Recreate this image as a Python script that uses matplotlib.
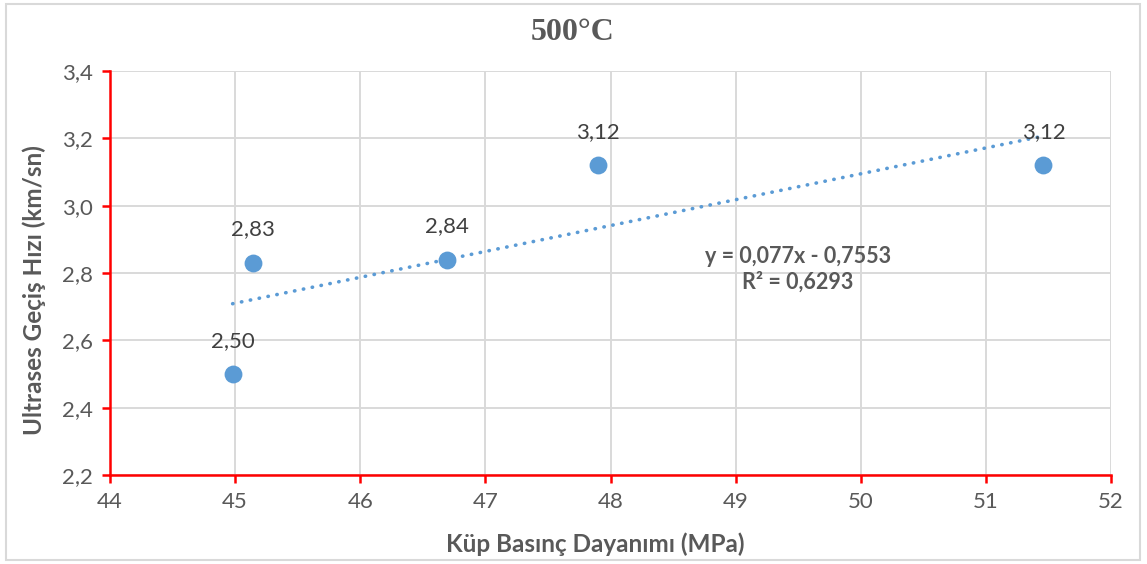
import numpy as np
import matplotlib
matplotlib.use("Agg")
import matplotlib.pyplot as plt
from matplotlib.patches import Rectangle

# 500°C - kup basinc dayanimi vs ultrases gecis hizi
strength = [44.98, 45.14, 46.69, 47.90, 51.46]
velocity = [2.50, 2.83, 2.84, 3.12, 3.12]
labels = ["2,50", "2,83", "2,84", "3,12", "3,12"]

x_ticks = [44, 45, 46, 47, 48, 49, 50, 51, 52]
y_ticks = [2.2, 2.4, 2.6, 2.8, 3.0, 3.2, 3.4]

blue = "#5b9bd5"
gray = "#595959"

plt.rcParams['font.family'] = ['Lato', 'DejaVu Sans']

fig = plt.figure(figsize=(11.47, 5.64), dpi=100)
ax = fig.add_axes([110 / 1147, 1 - 475 / 564, (1111 - 110) / 1147, (475 - 71) / 564])

# outer chart border
fig.patches.append(Rectangle((6 / 1147, 4 / 564), 1134 / 1147, 556 / 564,
                             transform=fig.transFigure, fill=False,
                             edgecolor="#d9d9d9", linewidth=1.5))

ax.scatter(strength, velocity, s=165, color=blue, zorder=3, linewidths=0)

# linear trendline
k, b = np.polyfit(strength, velocity, 1)
xs = np.array([min(strength), max(strength)])
ax.plot(xs, k * xs + b, linestyle=(0, (0.1, 2.4)), color=blue, linewidth=2.6,
        dash_capstyle="round", zorder=2)

for xv, yv, lab in zip(strength, velocity, labels):
    ax.annotate(lab, (xv, yv), xytext=(0, 24), textcoords="offset points",
                ha="center", va="center", fontsize=16, color="#404040")

ax.text(0.687, 0.542, "y = 0,077x - 0,7553", transform=ax.transAxes,
        ha="center", va="center", fontsize=15.5, fontweight="bold", color=gray)
ax.text(0.687, 0.477, "R² = 0,6293", transform=ax.transAxes,
        ha="center", va="center", fontsize=15.5, fontweight="bold", color=gray)

ax.set_xlim(44, 52)
ax.set_ylim(2.2, 3.4)
ax.set_xticks(x_ticks)
ax.set_yticks(y_ticks)
ax.set_xticklabels([str(t) for t in x_ticks])
ax.set_yticklabels([f"{t:.1f}".replace(".", ",") for t in y_ticks])
ax.grid(True, color="#d9d9d9", linewidth=1.4)
ax.set_axisbelow(True)

for side in ["top", "right"]:
    ax.spines[side].set_visible(False)
for side in ["left", "bottom"]:
    ax.spines[side].set_color("red")
    ax.spines[side].set_linewidth(1.8)
ax.tick_params(axis="both", colors="red", length=6, width=1.8, direction="out",
               labelsize=16, labelcolor=gray, pad=6)

ax.set_xlabel("Küp Basınç Dayanımı (MPa)", fontsize=17.5, fontweight="bold", color=gray, va="center")
ax.set_ylabel("Ultrases Geçiş Hızı (km/sn)", fontsize=17.5, fontweight="bold", color=gray, va="center")
ax.xaxis.set_label_coords((595 - 110) / 1001, -(544 - 475) / 404)
ax.yaxis.set_label_coords(-(110 - 34) / 1001, (475 - 290) / 404)
fig.text(573 / 1147, 1 - 33 / 564, "500°C", fontsize=23, fontweight="bold", color=gray,
         family="Liberation Serif", ha="center", va="center")

fig.savefig("out.png", dpi=100)
